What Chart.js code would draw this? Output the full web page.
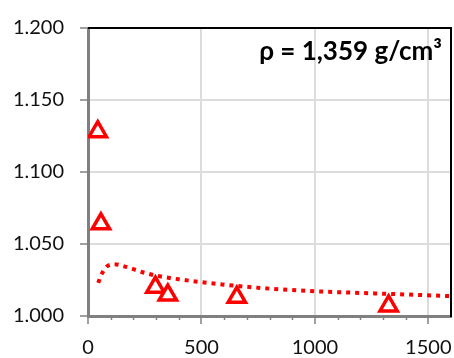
<!DOCTYPE html>
<html>
<head>
<meta charset="utf-8">
<script src="https://cdn.jsdelivr.net/npm/chart.js@4/dist/chart.umd.min.js"></script>
<style>
  html, body { margin: 0; padding: 0; background: #fff; }
  #wrap { width: 454px; height: 358px; position: relative; }
</style>
</head>
<body>
<div id="wrap"><canvas id="c" width="454" height="358"></canvas></div>
<script>
// Measured points (open triangles)
const xMeas = [43, 57, 297, 352, 656, 1325];
const yMeas = [1.128, 1.064, 1.020, 1.0145, 1.013, 1.007];

// Trend curve (dotted)
const xTrend = [45, 60, 80, 115, 160, 200, 250, 300, 400, 500, 650, 800, 1000, 1300, 1600];
const yTrend = [1.023, 1.029, 1.034, 1.036, 1.0345, 1.0325, 1.030, 1.028, 1.0255, 1.0235, 1.021, 1.019, 1.0172, 1.0155, 1.0138];

// Axis ticks
const xTickValues = [0, 500, 1000, 1500];
const xMinorStep = 100;
const xMin = 0, xMax = 1600;
const yMin = 1.0, yMax = 1.2, yStep = 0.05;

const annotationText = 'ρ = 1,359 g/cm³';

const FONT = 'Lato, "Open Sans", sans-serif';

const frameAndExtras = {
  id: 'frameAndExtras',
  afterDraw(chart) {
    const { ctx, chartArea: a, scales } = chart;
    ctx.save();
    // minor ticks on the x axis
    ctx.strokeStyle = '#808080';
    ctx.lineWidth = 1.5;
    for (let v = xMin + xMinorStep; v < xMax; v += xMinorStep) {
      if (xTickValues.includes(v)) continue;
      const px = Math.round(scales.x.getPixelForValue(v)) + 0.5;
      ctx.beginPath();
      ctx.moveTo(px, a.bottom);
      ctx.lineTo(px, a.bottom + 4);
      ctx.stroke();
    }
    // top and right frame
    ctx.strokeStyle = '#000';
    ctx.lineWidth = 2;
    ctx.beginPath();
    ctx.moveTo(a.left, a.top);
    ctx.lineTo(a.right, a.top);
    ctx.lineTo(a.right, a.bottom + 1);
    ctx.stroke();
    // annotation
    ctx.fillStyle = '#000';
    ctx.font = 'bold 26px ' + FONT;
    ctx.textAlign = 'right';
    ctx.textBaseline = 'alphabetic';
    ctx.fillText(annotationText, a.right - 9, a.top + 32);
    ctx.restore();
  }
};

new Chart(document.getElementById('c'), {
  type: 'scatter',
  data: {
    datasets: [
      {
        label: 'meas',
        data: xMeas.map((x, i) => ({ x, y: yMeas[i] })),
        pointStyle: 'triangle',
        pointRadius: 10,
        pointBorderWidth: 3.5,
        borderColor: '#ff0000',
        backgroundColor: '#ffffff',
        pointBackgroundColor: '#ffffff',
        pointBorderColor: '#ff0000',
        showLine: false,
        order: 1
      },
      {
        label: 'trend',
        data: xTrend.map((x, i) => ({ x, y: yTrend[i] })),
        showLine: true,
        borderColor: '#ff0000',
        borderWidth: 4,
        borderDash: [4, 5],
        borderCapStyle: 'butt',
        pointRadius: 0,
        cubicInterpolationMode: 'monotone',
        fill: false,
        order: 2
      }
    ]
  },
  options: {
    responsive: false,
    animation: false,
    devicePixelRatio: 1,
    layout: { autoPadding: false, padding: { top: 23, right: 3, left: 0, bottom: 0 } },
    plugins: {
      legend: { display: false },
      tooltip: { enabled: false },
      title: { display: false }
    },
    scales: {
      x: {
        type: 'linear',
        min: xMin, max: xMax,
        afterBuildTicks(s) { s.ticks = xTickValues.map((v) => ({ value: v })); },
        afterFit(s) { s.height = 42; s.paddingRight = 0; },
        ticks: {
          autoSkip: false,
          color: '#111',
          font: { family: FONT, size: 20 },
          padding: 12,
          maxRotation: 0,
          callback: (v) => String(v)
        },
        grid: {
          color: '#dcdcdc',
          lineWidth: 2,
          tickColor: '#808080',
          tickLength: 8,
          tickWidth: 1.5
        },
        border: { color: '#808080', width: 3 }
      },
      y: {
        type: 'linear',
        min: yMin, max: yMax,
        afterFit(s) { s.width = 88; },
        ticks: {
          stepSize: yStep,
          color: '#111',
          font: { family: FONT, size: 20 },
          padding: 16,
          callback: (v) => v.toFixed(3)
        },
        grid: {
          color: '#dcdcdc',
          lineWidth: 2,
          tickColor: '#808080',
          tickLength: 8,
          tickWidth: 1.5
        },
        border: { color: '#808080', width: 3 }
      }
    }
  },
  plugins: [frameAndExtras]
});
</script>
</body>
</html>
